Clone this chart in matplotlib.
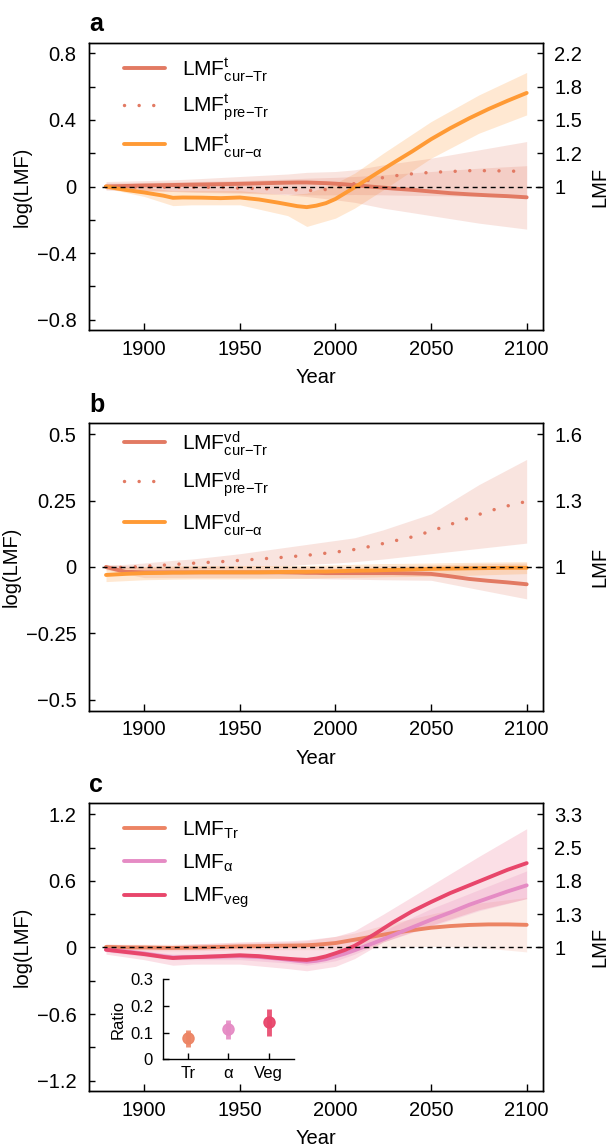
import numpy as np
import matplotlib
matplotlib.use("Agg")
import matplotlib.pyplot as plt
from matplotlib.ticker import FixedLocator, FuncFormatter

plt.rcParams.update({
    "font.family": ["Liberation Sans", "DejaVu Sans"],
    "mathtext.fontset": "custom",
    "mathtext.rm": "Liberation Sans",
    "mathtext.it": "Liberation Sans:italic",
    "mathtext.bf": "Liberation Sans:bold",
    "axes.linewidth": 1.0,
})

# ---------------- data ----------------
YEARS = [1880, 1890, 1900, 1910, 1915, 1920, 1930, 1940, 1950, 1960, 1970, 1980, 1985,
         1990, 1995, 2000, 2005, 2010, 2020, 2030, 2040, 2050, 2060, 2070, 2080, 2090, 2100]
BAND_YEARS = [1880, 1900, 1915, 1925, 1950, 1975, 1985, 2000, 2010, 2025, 2050, 2075, 2100]

# panel a
a_cur_tr = [0, 0.003, 0.006, 0.008, 0.009, 0.010, 0.012, 0.014, 0.016, 0.019, 0.022, 0.024, 0.024,
            0.022, 0.020, 0.017, 0.013, 0.008, -0.002, -0.012, -0.020, -0.030, -0.040, -0.047, -0.053, -0.058, -0.065]
a_pre_tr = [0, -0.003, -0.004, -0.004, -0.004, -0.004, -0.005, -0.005, -0.010, -0.012, -0.016, -0.021, -0.024,
            -0.024, -0.018, -0.008, 0.005, 0.018, 0.044, 0.063, 0.076, 0.085, 0.090, 0.095, 0.095, 0.093, 0.090]
a_cur_alpha = [0, -0.020, -0.036, -0.055, -0.068, -0.066, -0.067, -0.070, -0.066, -0.078, -0.097, -0.118, -0.124,
               -0.115, -0.100, -0.075, -0.040, -0.005, 0.068, 0.140, 0.210, 0.284, 0.350, 0.410, 0.465, 0.515, 0.562]
a_cur_tr_lo = [-0.02, -0.025, -0.03, -0.035, -0.04, -0.05, -0.06, -0.08, -0.095, -0.13, -0.175, -0.22, -0.256]
a_cur_tr_hi = [0.02, 0.025, 0.027, 0.03, 0.035, 0.045, 0.05, 0.055, 0.06, 0.07, 0.09, 0.11, 0.125]
a_pre_tr_lo = [-0.02, -0.025, -0.028, -0.03, -0.035, -0.045, -0.05, -0.05, -0.048, -0.05, -0.055, -0.058, -0.06]
a_pre_tr_hi = [0.03, 0.035, 0.04, 0.045, 0.06, 0.075, 0.085, 0.09, 0.10, 0.13, 0.17, 0.22, 0.27]
a_alpha_lo = [-0.01, -0.06, -0.115, -0.11, -0.11, -0.175, -0.24, -0.19, -0.13, -0.02, 0.17, 0.32, 0.43]
a_alpha_hi = [0.01, -0.005, -0.025, -0.025, -0.025, -0.05, -0.04, 0.02, 0.08, 0.20, 0.39, 0.55, 0.685]

# panel b
b_cur_tr = [0, -0.018, -0.020, -0.020, -0.020, -0.020, -0.020, -0.020, -0.020, -0.020, -0.020, -0.021, -0.022,
            -0.022, -0.023, -0.023, -0.023, -0.023, -0.023, -0.023, -0.024, -0.026, -0.035, -0.045, -0.052, -0.058, -0.065]
b_pre_tr = [0, -0.002, 0.003, 0.007, 0.009, 0.012, 0.016, 0.020, 0.025, 0.030, 0.035, 0.041, 0.044,
            0.048, 0.052, 0.056, 0.061, 0.066, 0.080, 0.097, 0.113, 0.135, 0.160, 0.185, 0.210, 0.230, 0.247]
b_cur_alpha = [-0.030, -0.026, -0.023, -0.022, -0.021, -0.021, -0.020, -0.020, -0.020, -0.020, -0.019, -0.018, -0.018,
               -0.017, -0.017, -0.016, -0.015, -0.014, -0.013, -0.011, -0.009, -0.007, -0.006, -0.005, -0.004, -0.003, -0.003]
b_cur_tr_lo = [-0.01, -0.04, -0.04, -0.04, -0.04, -0.042, -0.043, -0.045, -0.046, -0.048, -0.05, -0.085, -0.12]
b_cur_tr_hi = [0.01, 0.0, 0.0, 0.0, 0.0, 0.0, 0.0, 0.0, 0.002, 0.005, 0.008, 0.012, 0.015]
b_pre_tr_lo = [0.0, -0.01, -0.01, -0.008, -0.002, 0.005, 0.01, 0.015, 0.02, 0.03, 0.05, 0.07, 0.09]
b_pre_tr_hi = [0.005, 0.015, 0.025, 0.03, 0.05, 0.075, 0.085, 0.10, 0.11, 0.14, 0.20, 0.31, 0.405]
b_alpha_lo = [-0.055, -0.048, -0.046, -0.045, -0.045, -0.043, -0.042, -0.04, -0.039, -0.037, -0.035, -0.03, -0.025]
b_alpha_hi = [-0.005, 0.002, 0.004, 0.005, 0.005, 0.006, 0.006, 0.008, 0.01, 0.013, 0.015, 0.018, 0.02]

# panel c
c_tr = [0.005, 0.0, 0.0, -0.003, -0.004, -0.003, 0.0, 0.005, 0.010, 0.012, 0.015, 0.018, 0.020,
        0.025, 0.032, 0.040, 0.055, 0.070, 0.100, 0.130, 0.155, 0.178, 0.193, 0.203, 0.208, 0.208, 0.204]
c_alpha = [-0.020, -0.035, -0.055, -0.080, -0.090, -0.088, -0.085, -0.082, -0.078, -0.085, -0.100, -0.120, -0.128,
           -0.120, -0.105, -0.080, -0.055, -0.025, 0.040, 0.110, 0.180, 0.250, 0.315, 0.385, 0.445, 0.505, 0.560]
c_veg = [-0.020, -0.040, -0.060, -0.085, -0.095, -0.090, -0.085, -0.078, -0.070, -0.078, -0.095, -0.108, -0.112,
         -0.100, -0.080, -0.052, -0.022, 0.015, 0.115, 0.225, 0.325, 0.410, 0.490, 0.560, 0.630, 0.700, 0.760]
c_tr_lo = [-0.03, -0.03, -0.03, -0.03, -0.02, -0.02, -0.02, -0.02, -0.01, 0.0, 0.01, 0.0, -0.04]
c_tr_hi = [0.03, 0.03, 0.03, 0.035, 0.04, 0.05, 0.06, 0.10, 0.13, 0.20, 0.30, 0.40, 0.45]
c_alpha_lo = [-0.04, -0.08, -0.11, -0.11, -0.11, -0.14, -0.16, -0.12, -0.06, 0.05, 0.19, 0.33, 0.44]
c_alpha_hi = [0.0, -0.03, -0.06, -0.06, -0.05, -0.08, -0.09, -0.04, 0.01, 0.15, 0.35, 0.52, 0.69]
c_veg_lo = [-0.06, -0.11, -0.16, -0.15, -0.15, -0.19, -0.21, -0.17, -0.10, 0.05, 0.20, 0.34, 0.44]
c_veg_hi = [0.03, 0.02, 0.02, 0.03, 0.05, 0.06, 0.07, 0.10, 0.15, 0.30, 0.56, 0.82, 1.07]

# inset
RATIO_CATS = ["Tr", "α", "Veg"]
ratio_mid = [0.081, 0.112, 0.139]
ratio_lo = [0.048, 0.076, 0.088]
ratio_hi = [0.110, 0.146, 0.190]

XTICKS = [1900, 1950, 2000, 2050, 2100]
LEFT_A = [-0.8, -0.4, 0, 0.4, 0.8]
LEFT_A_MINOR = [-0.6, -0.2, 0.2, 0.6]
RIGHT_A = [0, 0.2, 0.4, 0.6, 0.8]
LEFT_B = [-0.5, -0.25, 0, 0.25, 0.5]
RIGHT_B = [0, 0.25, 0.5]
LEFT_C = [-1.2, -0.6, 0, 0.6, 1.2]
LEFT_C_MINOR = [-0.9, -0.3, 0.3, 0.9]
RIGHT_C = [0, 0.3, 0.6, 0.9, 1.2]

LABELS_A = [r"LMF$^{\mathrm{t}}_{\mathrm{cur{-}Tr}}$", r"LMF$^{\mathrm{t}}_{\mathrm{pre{-}Tr}}$",
            r"LMF$^{\mathrm{t}}_{\mathrm{cur{-}\alpha}}$"]
LABELS_B = [r"LMF$^{\mathrm{vd}}_{\mathrm{cur{-}Tr}}$", r"LMF$^{\mathrm{vd}}_{\mathrm{pre{-}Tr}}$",
            r"LMF$^{\mathrm{vd}}_{\mathrm{cur{-}\alpha}}$"]
LABELS_C = [r"LMF$_{\mathrm{Tr}}$", r"LMF$_{\mathrm{\alpha}}$", r"LMF$_{\mathrm{veg}}$"]

# ---------------- style ----------------
SALMON = "#E27A63"
ORANGE = "#FF9A35"
C_TR = "#EC8464"
C_ALPHA = "#E58BC4"
C_VEG = "#E8466B"
XLIM = (1871.1, 2108.7)
LW = 2.8
DOT = (0, (0.01, 4.2))
FS = 14.5


def fmt_left(v, pos):
    if abs(v) < 1e-9:
        return "0"
    s = f"{v:g}"
    return s.replace("-", "\u2212")


def fmt_right(v, pos):
    s = f"{np.exp(v):.1f}"
    return s[:-2] if s.endswith(".0") else s


fig = plt.figure(figsize=(6.09, 11.47), dpi=100)
W, H = 609.0, 1147.0


def make_axes(top_px, bottom_px):
    return fig.add_axes([89 / W, 1 - bottom_px / H, (543.3 - 89) / W, (bottom_px - top_px) / H])


def style(ax, ylim, major, minor, right):
    ax.set_xlim(*XLIM)
    ax.set_ylim(*ylim)
    ax.xaxis.set_major_locator(FixedLocator(XTICKS))
    ax.yaxis.set_major_locator(FixedLocator(major))
    ax.yaxis.set_minor_locator(FixedLocator(minor))
    ax.yaxis.set_major_formatter(FuncFormatter(fmt_left))
    ax.tick_params(axis="y", which="both", direction="in", length=4, width=1,
                   labelsize=FS, pad=9, right=False)
    ax.tick_params(axis="x", direction="in", length=5, width=1, labelsize=FS, pad=7, top=False)
    ax.set_xlabel("Year", fontsize=FS, labelpad=7)
    ax.set_ylabel("log(LMF)", fontsize=FS, labelpad=4)
    ax2 = ax.twinx()
    ax2.set_ylim(*ylim)
    ax2.yaxis.set_major_locator(FixedLocator(right))
    ax2.yaxis.set_major_formatter(FuncFormatter(fmt_right))
    ax2.tick_params(axis="y", direction="in", length=4, width=1, labelsize=FS, pad=8)
    ax2.set_ylabel("LMF", fontsize=FS, labelpad=6)
    ax.hlines(0, YEARS[0] - 2, XLIM[1], colors="black", linestyles=(0, (3.6, 2.9)),
              linewidth=1.0, zorder=10)
    return ax2


def legend(ax, handles, labels, anchor, spacing):
    ax.legend(handles, labels, loc="upper left", bbox_to_anchor=anchor, frameon=False,
              fontsize=15, handlelength=1.95, handletextpad=0.85, labelspacing=spacing,
              borderpad=0, borderaxespad=0)


# ---------------- panel a ----------------
axa = make_axes(43, 330)
axa.fill_between(BAND_YEARS, a_alpha_lo, a_alpha_hi, color=ORANGE, alpha=0.22, lw=0)
axa.fill_between(BAND_YEARS, a_cur_tr_lo, a_cur_tr_hi, color=SALMON, alpha=0.2, lw=0)
axa.fill_between(BAND_YEARS, a_pre_tr_lo, a_pre_tr_hi, color=SALMON, alpha=0.2, lw=0)
la1, = axa.plot(YEARS, a_cur_tr, color=SALMON, lw=LW, solid_capstyle="round")
la2, = axa.plot(YEARS, a_pre_tr, color=SALMON, lw=2.5, linestyle=DOT, dash_capstyle="round")
la3, = axa.plot(YEARS, a_cur_alpha, color=ORANGE, lw=LW, solid_capstyle="round")
style(axa, (-0.862, 0.862), LEFT_A, LEFT_A_MINOR, RIGHT_A)
legend(axa, [la1, la2, la3], LABELS_A, (0.077, 0.955), 0.46)

# ---------------- panel b ----------------
axb = make_axes(423.3, 710.7)
axb.fill_between(BAND_YEARS, b_pre_tr_lo, b_pre_tr_hi, color=SALMON, alpha=0.2, lw=0)
axb.fill_between(BAND_YEARS, b_cur_tr_lo, b_cur_tr_hi, color=SALMON, alpha=0.2, lw=0)
axb.fill_between(BAND_YEARS, b_alpha_lo, b_alpha_hi, color=ORANGE, alpha=0.22, lw=0)
lb1, = axb.plot(YEARS, b_cur_tr, color=SALMON, lw=LW, solid_capstyle="round")
lb2, = axb.plot(YEARS, b_pre_tr, color=SALMON, lw=2.5, linestyle=DOT, dash_capstyle="round")
lb3, = axb.plot(YEARS, b_cur_alpha, color=ORANGE, lw=LW, solid_capstyle="round")
style(axb, (-0.541, 0.541), LEFT_B, [], RIGHT_B)
legend(axb, [lb1, lb2, lb3], LABELS_B, (0.077, 0.98), 0.46)

# ---------------- panel c ----------------
axc = make_axes(803.3, 1091)
axc.fill_between(BAND_YEARS, c_tr_lo, c_tr_hi, color=C_TR, alpha=0.15, lw=0)
axc.fill_between(BAND_YEARS, c_alpha_lo, c_alpha_hi, color=C_ALPHA, alpha=0.2, lw=0)
axc.fill_between(BAND_YEARS, c_veg_lo, c_veg_hi, color=C_VEG, alpha=0.17, lw=0)
lc1, = axc.plot(YEARS, c_tr, color=C_TR, lw=LW, solid_capstyle="round")
lc2, = axc.plot(YEARS, c_alpha, color=C_ALPHA, lw=LW, solid_capstyle="round")
lc3, = axc.plot(YEARS, c_veg, color=C_VEG, lw=LW, solid_capstyle="round")
style(axc, (-1.293, 1.299), LEFT_C, LEFT_C_MINOR, RIGHT_C)
legend(axc, [lc1, lc2, lc3], LABELS_C, (0.077, 0.944), 0.57)

# inset
axi = fig.add_axes([162.8 / W, 1 - 1059.3 / H, (294 - 162.8) / W, 80 / H])
for i, (m, lo, hi, col) in enumerate(zip(ratio_mid, ratio_lo, ratio_hi, [C_TR, C_ALPHA, C_VEG])):
    axi.vlines(i + 1, lo, hi, color=col, lw=3.5, alpha=0.9)
    axi.plot(i + 1, m, "o", color=col, ms=8, alpha=0.95)
axi.set_xlim(0.37, 3.63)
axi.set_ylim(0, 0.3)
axi.set_xticks([1, 2, 3])
axi.set_xticklabels(RATIO_CATS)
axi.set_yticks([0, 0.1, 0.2, 0.3])
axi.set_yticklabels(["0", "0.1", "0.2", "0.3"])
axi.spines["top"].set_visible(False)
axi.spines["right"].set_visible(False)
axi.patch.set_alpha(0)
axi.tick_params(direction="in", length=4, width=1, labelsize=12)
axi.tick_params(axis="y", pad=7)
axi.tick_params(axis="x", pad=5)
axi.set_ylabel("Ratio", fontsize=12, labelpad=3)

# panel letters
for letter, ybase in [("a", 31), ("b", 411.7), ("c", 791.7)]:
    fig.text(89 / W, 1 - ybase / H, letter, fontsize=18, fontweight="bold", va="baseline", ha="left")

fig.savefig("out.png", dpi=100)
